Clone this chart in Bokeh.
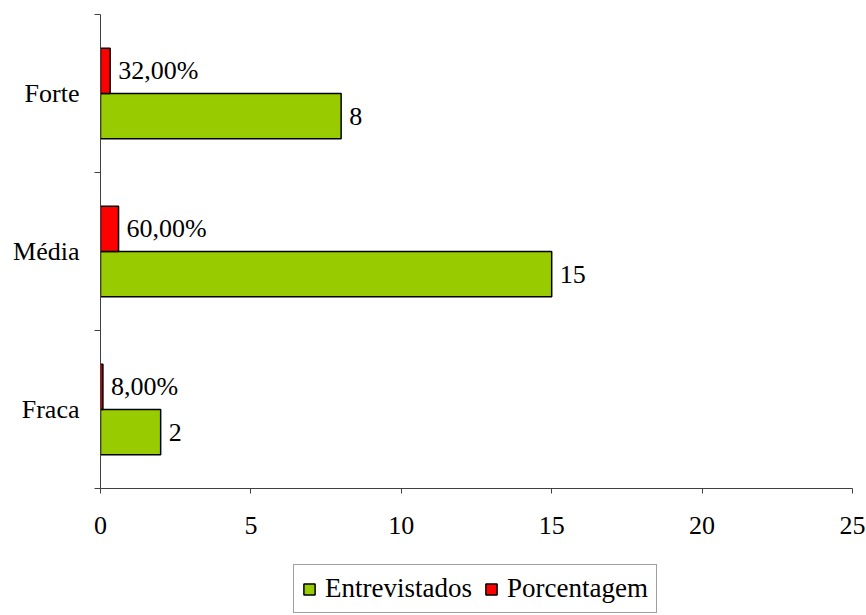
from bokeh.plotting import figure
from bokeh.layouts import column
from bokeh.models import (FixedTicker, Legend, LegendItem, ColumnDataSource, Range1d)
from bokeh.embed import file_html
from bokeh.resources import INLINE
from bokeh.core.properties import value

categories = ["Fraca", "Média", "Forte"]
entrevistados = [2, 15, 8]
porcentagem = [0.08, 0.60, 0.32]
porcentagem_labels = ["8,00%", "60,00%", "32,00%"]
x_ticks = [0, 5, 10, 15, 20, 25]
series_names = ["Entrevistados", "Porcentagem"]
series_colors = ["#99CC00", "#FF0000"]

FONT = "Liberation Serif"
FS = "26px"
BAR_H = 0.286

pos = [i + 0.5 for i in range(len(categories))]
src_g = ColumnDataSource(dict(y=[p - BAR_H / 2 for p in pos], v=entrevistados,
                              lab=[str(v) for v in entrevistados]))
src_r = ColumnDataSource(dict(y=[p + BAR_H / 2 for p in pos], v=porcentagem,
                              lab=porcentagem_labels))

p = figure(width=866, height=548, output_backend="svg",
           toolbar_location=None, x_range=Range1d(0, 25), y_range=Range1d(0, 3),
           min_border_left=100, min_border_right=14, min_border_top=14,
           min_border_bottom=60)
p.outline_line_color = None
p.grid.grid_line_color = None

g = p.hbar(y="y", right="v", left=0, height=BAR_H, source=src_g,
           fill_color=series_colors[0], line_color="black", line_width=1.5)
r = p.hbar(y="y", right="v", left=0, height=BAR_H, source=src_r,
           fill_color=series_colors[1], line_color="black", line_width=1.5)

for s in (src_g, src_r):
    p.text(x="v", y="y", text="lab", source=s, x_offset=8,
           text_align="left", text_baseline="middle",
           text_font=value(FONT), text_font_size=FS, text_color="black")

# x axis
xa = p.xaxis[0]
xa.ticker = FixedTicker(ticks=x_ticks)
xa.axis_line_color = "#404040"
xa.major_tick_line_color = "#404040"
xa.major_tick_out = 5
xa.major_tick_in = 0
xa.minor_tick_line_color = None
xa.major_label_text_font = FONT
xa.major_label_text_font_size = FS
xa.major_label_text_color = "black"
xa.major_label_standoff = 23

# y axis
ya = p.yaxis[0]
ya.ticker = FixedTicker(ticks=pos, minor_ticks=[0, 1, 2, 3])
ya.major_label_overrides = {pp: c for pp, c in zip(pos, categories)}
ya.axis_line_color = "#404040"
ya.major_tick_line_color = None
ya.major_tick_out = 0
ya.major_tick_in = 0
ya.minor_tick_line_color = "#404040"
ya.minor_tick_out = 6
ya.minor_tick_in = 0
ya.major_label_text_font = FONT
ya.major_label_text_font_size = FS
ya.major_label_text_color = "black"
ya.major_label_standoff = 15

# legend figure (proxy bars carry no drawable data; they only style the swatches)
lf = figure(width=866, height=67, output_backend="svg", toolbar_location=None,
            x_range=Range1d(0, 1), y_range=Range1d(0, 1),
            min_border=0, x_axis_type=None, y_axis_type=None)
lf.outline_line_color = None
lf.grid.grid_line_color = None
items = []
for name, col in zip(series_names, series_colors):
    rr = lf.hbar(y=[float("nan")], right=[float("nan")], left=0, height=0.1,
                 fill_color=col, line_color="black", line_width=1.5)
    items.append(LegendItem(label=name, renderers=[rr]))

legend = Legend(items=items, orientation="horizontal", location=(193, 2),
                label_text_font=FONT, label_text_font_size="27px",
                label_text_color="black",
                glyph_width=14, glyph_height=14, label_standoff=9, spacing=12,
                border_line_color="#404040", border_line_width=1,
                padding=8, margin=0)
lf.add_layout(legend, "center")

layout = column(p, lf, spacing=0)
open("out.html", "w").write(file_html(layout, INLINE))
